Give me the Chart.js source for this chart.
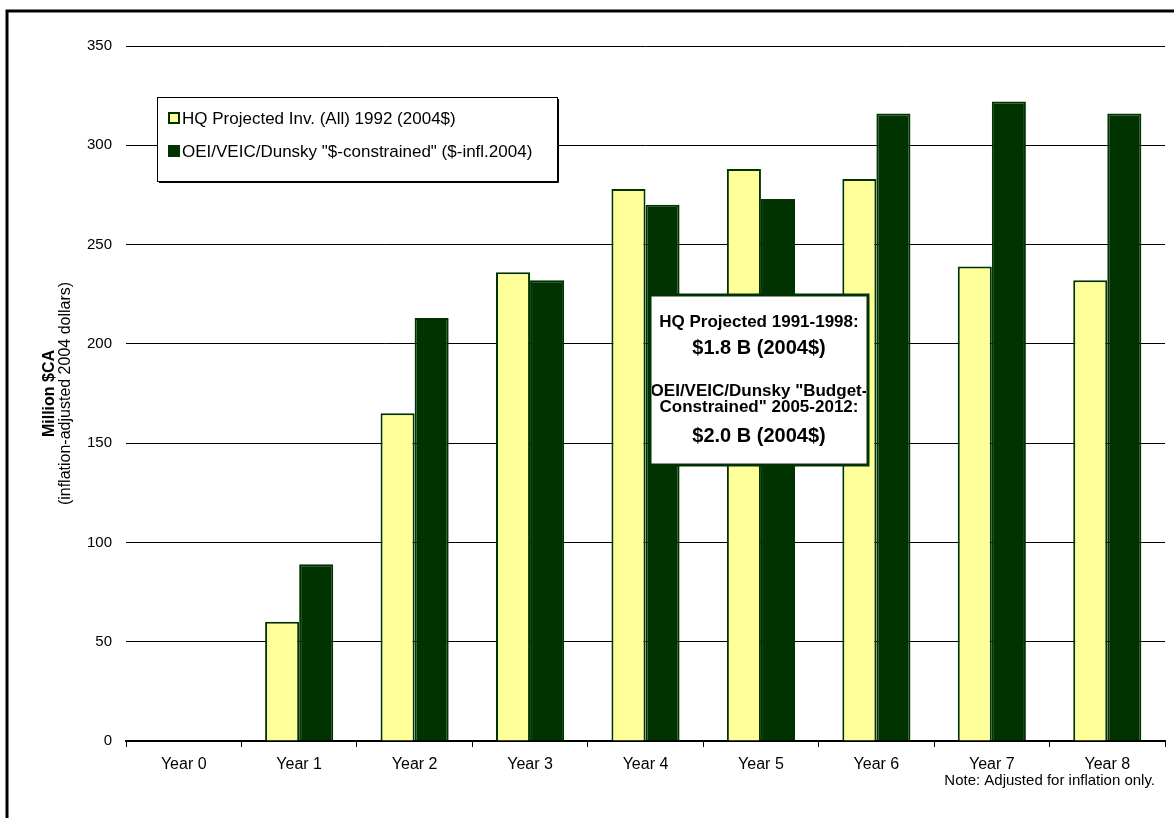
<!DOCTYPE html>
<html lang="en">
<head>
<meta charset="UTF-8">
<title>HQ vs OEI/VEIC/Dunsky investment</title>
<script src="https://cdn.jsdelivr.net/npm/chart.js"></script>
<style>
  html, body { margin: 0; padding: 0; background: #fff; }
  #wrap { width: 1174px; height: 818px; position: relative; }
</style>
</head>
<body>
<div id="wrap"><canvas id="myChart" width="1174" height="818"></canvas></div>
<script>
// data
const years = ['Year 0', 'Year 1', 'Year 2', 'Year 3', 'Year 4', 'Year 5', 'Year 6', 'Year 7', 'Year 8'];
const hqValues = [0, 60, 165, 236, 278, 288, 283, 239, 232];
const oeiValues = [0, 89, 213, 232, 270, 273, 316, 322, 316];
const seriesNames = ['HQ Projected Inv. (All) 1992 (2004$)', 'OEI/VEIC/Dunsky "$-constrained" ($-infl.2004)'];
const yTicks = [0, 50, 100, 150, 200, 250, 300, 350];
const boxLines = [
    ['HQ Projected 1991-1998:', 17],
    ['$1.8 B (2004$)', 20],
    ['OEI/VEIC/Dunsky "Budget-', 17],
    ['Constrained" 2005-2012:', 17],
    ['$2.0 B (2004$)', 20]
];

const font = 'Arial, "Liberation Sans", sans-serif';
const darkGreen = '#003300';
const paleYellow = '#FFFF99';

// frame, y title, legend, annotation box, note
const extras = {
    id: 'extras',
    afterDraw(chart) {
        const ctx = chart.ctx;
        const area = chart.chartArea;
        ctx.save();

        // outer frame (left and top edges visible)
        ctx.strokeStyle = '#000';
        ctx.lineWidth = 3;
        ctx.beginPath();
        ctx.moveTo(7, 818);
        ctx.lineTo(7, 11);
        ctx.lineTo(1174, 11);
        ctx.stroke();

        // y axis title
        const midY = (area.top + area.bottom) / 2;
        ctx.fillStyle = '#000';
        ctx.textAlign = 'center';
        ctx.textBaseline = 'middle';
        ctx.save();
        ctx.translate(50, midY);
        ctx.rotate(-Math.PI / 2);
        ctx.font = 'bold 16px ' + font;
        ctx.fillText('Million $CA', 0, 0);
        ctx.font = '16px ' + font;
        ctx.fillText('(inflation-adjusted 2004 dollars)', 0, 16);
        ctx.restore();

        // legend
        ctx.fillStyle = '#fff';
        ctx.fillRect(157, 97, 400, 84);
        ctx.strokeStyle = '#000';
        ctx.lineWidth = 1;
        ctx.strokeRect(157.5, 97.5, 400, 84);
        ctx.beginPath();
        ctx.moveTo(159, 182.5); ctx.lineTo(558.5, 182.5); ctx.lineTo(558.5, 99);
        ctx.stroke();
        const fills = [paleYellow, darkGreen];
        seriesNames.forEach((name, i) => {
            const y = 118 + i * 33;
            ctx.fillStyle = fills[i];
            ctx.fillRect(169, y - 5, 10, 10);
            ctx.strokeStyle = darkGreen;
            ctx.lineWidth = 2;
            ctx.strokeRect(169, y - 5, 10, 10);
            ctx.fillStyle = '#000';
            ctx.font = '17px ' + font;
            ctx.textAlign = 'left';
            ctx.textBaseline = 'middle';
            ctx.fillText(name, 182, y + 1);
        });

        // annotation box
        ctx.fillStyle = '#fff';
        ctx.fillRect(650, 295, 218, 170);
        ctx.strokeStyle = darkGreen;
        ctx.lineWidth = 3;
        ctx.strokeRect(650, 295, 218, 170);
        ctx.save();
        ctx.beginPath();
        ctx.rect(652, 297, 214, 166);
        ctx.clip();
        const ys = [322, 348, 391, 407, 436];
        ctx.fillStyle = '#000';
        ctx.textAlign = 'center';
        boxLines.forEach((l, i) => {
            ctx.font = 'bold ' + l[1] + 'px ' + font;
            ctx.fillText(l[0], 759, ys[i]);
        });
        ctx.restore();

        // note
        ctx.fillStyle = '#000';
        ctx.font = '15px ' + font;
        ctx.textAlign = 'right';
        ctx.textBaseline = 'middle';
        ctx.fillText('Note: Adjusted for inflation only.', 1155, 781);

        ctx.restore();
    }
};

const ctx = document.getElementById('myChart').getContext('2d');
new Chart(ctx, {
    type: 'bar',
    data: {
        labels: years,
        datasets: [{
            label: seriesNames[0],
            data: hqValues,
            backgroundColor: paleYellow,
            borderColor: darkGreen,
            borderWidth: 2
        }, {
            label: seriesNames[1],
            data: oeiValues,
            backgroundColor: darkGreen,
            borderColor: darkGreen,
            borderWidth: 2
        }]
    },
    options: {
        responsive: false,
        animation: false,
        events: [],
        categoryPercentage: 0.59,
        barPercentage: 1,
        layout: { padding: { left: 0, top: 46, right: 9, bottom: 0 } },
        plugins: {
            legend: { display: false },
            tooltip: { enabled: false }
        },
        scales: {
            x: {
                grid: { display: true, drawOnChartArea: false, drawTicks: true, tickLength: 6, color: '#000', offset: true },
                border: { color: '#000', width: 2 },
                ticks: { color: '#000', font: { family: font, size: 16 }, padding: 8, maxRotation: 0 },
                afterFit(scale) { scale.height = 77; }
            },
            y: {
                min: 0,
                max: 350,
                afterBuildTicks(scale) { scale.ticks = yTicks.map(v => ({ value: v })); },
                grid: { color: '#000', lineWidth: 1, drawTicks: false },
                border: { display: false },
                ticks: { color: '#000', font: { family: font, size: 15 }, padding: 14 },
                afterFit(scale) { scale.width = 126; }
            }
        }
    },
    plugins: [extras]
});
</script>
</body>
</html>
